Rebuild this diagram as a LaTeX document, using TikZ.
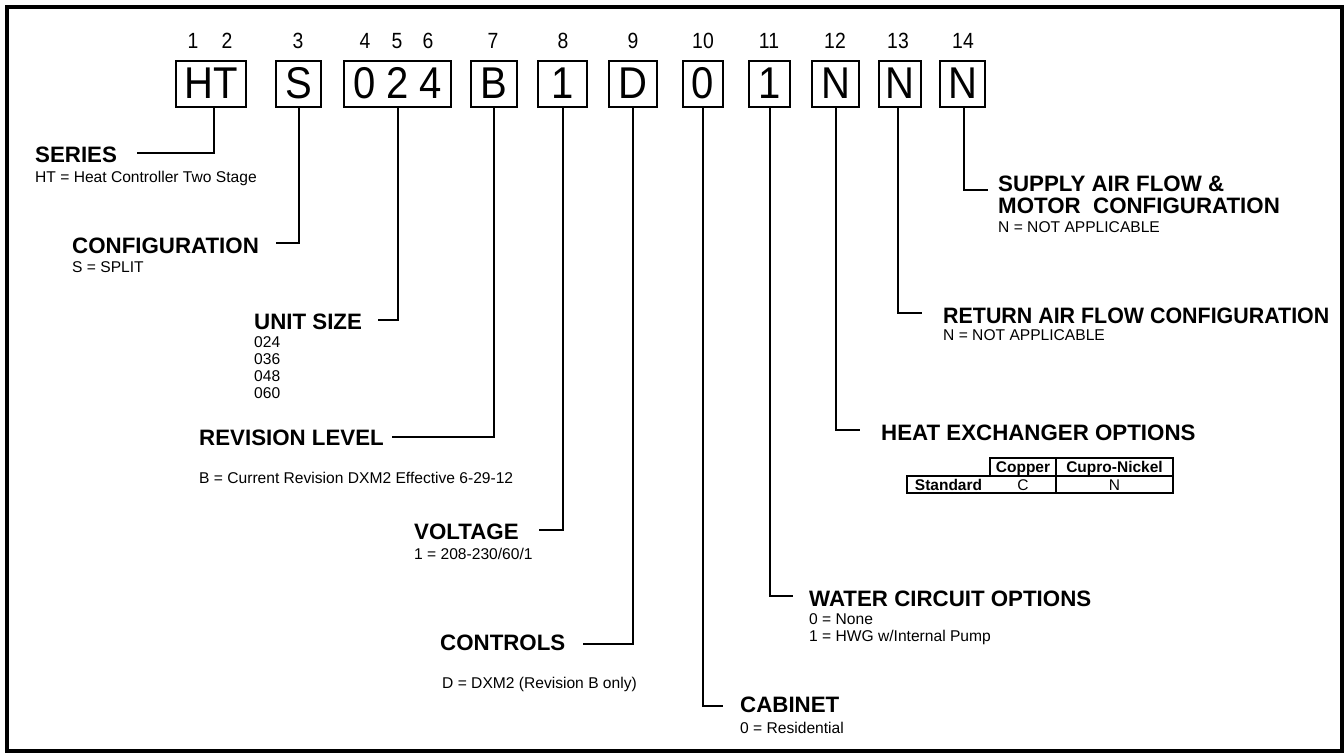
\documentclass[tikz,border=0pt]{standalone}
\usepackage{fontspec}
\usepackage{graphicx}
\setmainfont{Liberation Sans}
\newfontfamily\condfont[FakeStretch=0.88]{Liberation Sans}
\newfontfamily\boxfont[FakeStretch=0.9]{Liberation Sans}
\begin{document}
\begin{tikzpicture}[x=1pt,y=-1pt,
  digitbox/.style={draw, line width=2pt, inner sep=0pt, minimum height=46pt,
    font=\boxfont\fontsize{44.5}{44.5}\selectfont},
  posnum/.style={anchor=base, inner sep=0pt, font=\condfont\fontsize{22}{22}\selectfont},
  head/.style={anchor=base west, inner sep=0pt, font=\fontsize{22.3}{26}\selectfont\bfseries},
  subtxt/.style={anchor=base west, inner sep=0pt, font=\fontsize{15.6}{17}\selectfont},
  lead/.style={line width=2pt},
  tbl/.style={line width=1.4pt},
  tblhead/.style={anchor=base, inner sep=0pt, font=\fontsize{15.5}{17}\selectfont\bfseries},
  tblcell/.style={anchor=base, inner sep=0pt, font=\fontsize{15.5}{17}\selectfont}]
\useasboundingbox (0,0) rectangle (1344,753);
\draw[line width=4pt] (7,7) rectangle (1342,751);

% position numbers
\node[posnum] (n1) at (193,48) {1};
\node[posnum] (n2) at (227,48) {2};
\node[posnum] (n3) at (298,48) {3};
\node[posnum] (n4) at (365,48) {4};
\node[posnum] (n5) at (397,48) {5};
\node[posnum] (n6) at (428,48) {6};
\node[posnum] (n7) at (493,48) {7};
\node[posnum] (n8) at (563,48) {8};
\node[posnum] (n9) at (633,48) {9};
\node[posnum] (n10) at (703,48) {10};
\node[posnum] (n11) at (769,48) {11};
\node[posnum] (n12) at (835,48) {12};
\node[posnum] (n13) at (898,48) {13};
\node[posnum] (n14) at (963,48) {14};

% code boxes
\node[digitbox, minimum width=70pt] (b1) at (211,83.5) {HT};
\node[digitbox, minimum width=45pt] (b2) at (298.5,83.5) {S};
\node[digitbox, minimum width=107pt] (b3) at (397.5,83.5) {0\hspace{11pt}2\hspace{11pt}4};
\node[digitbox, minimum width=46pt] (b4) at (494,83.5) {B};
\node[digitbox, minimum width=49pt] (b5) at (562.5,83.5) {1};
\node[digitbox, minimum width=48pt] (b6) at (633,83.5) {D};
\node[digitbox, minimum width=40pt] (b7) at (703,83.5) {0};
\node[digitbox, minimum width=41pt] (b8) at (769.5,83.5) {1};
\node[digitbox, minimum width=47pt] (b9) at (835.5,83.5) {N};
\node[digitbox, minimum width=42pt] (b10) at (900,83.5) {N};
\node[digitbox, minimum width=45pt] (b11) at (962.5,83.5) {N};

% connector ends
\coordinate (c1) at (137,153);
\coordinate (c2) at (276,243);
\coordinate (c3) at (378,320);
\coordinate (c4) at (392,437);
\coordinate (c5) at (539,530);
\coordinate (c6) at (583,644);
\coordinate (c7) at (723,706);
\coordinate (c8) at (793,596);
\coordinate (c9) at (860,430);
\coordinate (c10) at (922,313);
\coordinate (c11) at (988,190);

\draw[lead] ([xshift=3pt]b1.south) |- (c1);
\draw[lead] (b2.south) |- (c2);
\draw[lead] (b3.south) |- (c3);
\draw[lead] (b4.south) |- (c4);
\draw[lead] (b5.south) |- (c5);
\draw[lead] (b6.south) |- (c6);
\draw[lead] (b7.south) |- (c7);
\draw[lead] (b8.south) |- (c8);
\draw[lead] (b9.south) |- (c9);
\draw[lead] ([xshift=-2pt]b10.south) |- (c10);
\draw[lead] ([xshift=1.5pt]b11.south) |- (c11);

% left labels
\node[head] (series) at (35,162) {SERIES};
\node[subtxt] (seriesd) at (35,182.6) {HT = Heat Controller Two Stage};
\node[head] (config) at (72,253) {CONFIGURATION};
\node[subtxt] (configd) at (72,272.6) {S = SPLIT};
\node[head] (usize) at (254,329) {UNIT SIZE};
\node[subtxt] (us1) at (254,347.6) {024};
\node[subtxt] (us2) at (254,364.6) {036};
\node[subtxt] (us3) at (254,381.6) {048};
\node[subtxt] (us4) at (254,398.6) {060};
\node[head] (rev) at (199,445) {REVISION LEVEL};
\node[subtxt] (revd) at (199,483.6) {B = Current Revision DXM2 Effective 6-29-12};
\node[head] (volt) at (414,539) {VOLTAGE};
\node[subtxt] (voltd) at (414,559.6) {1 = 208-230/60/1};
\node[head] (ctrl) at (440,650) {CONTROLS};
\node[subtxt] (ctrld) at (442,688.6) {D = DXM2 (Revision B only)};

% right labels
\node[head] (cab) at (740,712) {CABINET};
\node[subtxt] (cabd) at (740,733.6) {0 = Residential};
\node[head] (water) at (809,606) {WATER CIRCUIT OPTIONS};
\node[subtxt] (water1) at (809,624.6) {0 = None};
\node[subtxt] (water2) at (809,641.6) {1 = HWG w/Internal Pump};
\node[head] (hx) at (881,440) {HEAT EXCHANGER OPTIONS};
\node[head] (ret) at (943,323) {\scalebox{0.96}[1]{RETURN AIR FLOW CONFIGURATION}};
\node[subtxt] (retd) at (943,340.6) {N = NOT APPLICABLE};
\node[head] (sup1) at (998,191) {SUPPLY AIR FLOW \&};
\node[head] (sup2) at (998,213) {MOTOR~ CONFIGURATION};
\node[subtxt] (supd) at (998,232.6) {N = NOT APPLICABLE};

% heat exchanger table
\draw[tbl] (990,458) rectangle (1173,476);
\draw[tbl] (907,476) rectangle (1173,493);
\draw[tbl] (1056,458) -- (1056,493);
\node[tblhead] (tcu) at (1023,472.5) {Copper};
\node[tblhead] (tcn) at (1114.5,472.5) {Cupro-Nickel};
\node[tblhead] (tstd) at (948.5,490) {Standard};
\node[tblcell] (tc) at (1023,490) {C};
\node[tblcell] (tn) at (1114.5,490) {N};
\end{tikzpicture}
\end{document}
